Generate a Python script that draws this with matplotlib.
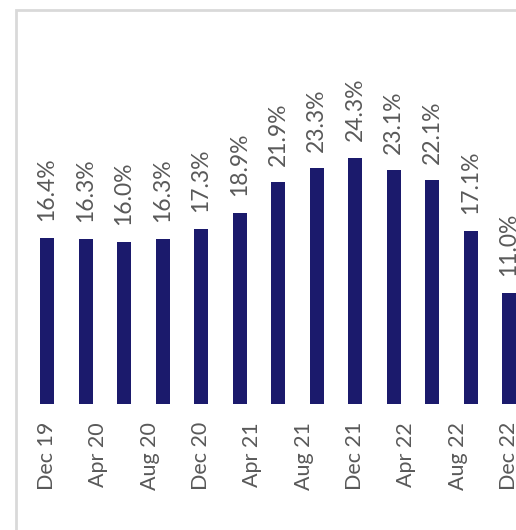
import matplotlib
matplotlib.use("Agg")
import matplotlib.pyplot as plt
from matplotlib.patches import Rectangle

# quarterly values, Dec 19 .. Dec 22 (months since Dec 19)
months = [0, 3, 6, 9, 12, 15, 18, 21, 24, 27, 30, 33, 36]
values = [16.4, 16.3, 16.0, 16.3, 17.3, 18.9, 21.9, 23.3, 24.3, 23.1, 22.1, 17.1, 11.0]

tick_months = [0, 4, 8, 12, 16, 20, 24, 28, 32, 36]
tick_labels = ["Dec 19", "Apr 20", "Aug 20", "Dec 20", "Apr 21",
               "Aug 21", "Dec 21", "Apr 22", "Aug 22", "Dec 22"]

W, H = 516, 530
px_per_month = 462 / 36

fig = plt.figure(figsize=(W / 100, H / 100), dpi=100)

# light grey frame, runs off the right and bottom edges
fig.patches.append(Rectangle((16 / W, -0.1), 1.2, 0.1 + (H - 10) / H,
                             transform=fig.transFigure, fill=False,
                             edgecolor="#d9d9d9", linewidth=2))

ax = fig.add_axes([0, (H - 404) / H, 1, (404 - 10) / H])
ax.set_xlim(-47 / px_per_month, 36 + 7 / px_per_month)
ax.set_ylim(0, 394 / 10.12)
ax.patch.set_visible(False)

ax.bar(months, values, width=14 / px_per_month, color="#1b1a6c")

for m, v in zip(months, values):
    ax.annotate(f"{v:.1f}%", (m, v), xytext=(0, 12), textcoords="offset points",
                rotation=90, ha="center", va="bottom",
                fontsize=16.5, color="#595959", family="Lato")

ax.set_xticks(tick_months)
ax.set_xticklabels(tick_labels, rotation=90, fontsize=15.5, color="#595959", family="Lato")
ax.tick_params(axis="x", length=0, pad=13)
ax.set_yticks([])
for s in ax.spines.values():
    s.set_visible(False)

fig.savefig("out.png", dpi=100)
